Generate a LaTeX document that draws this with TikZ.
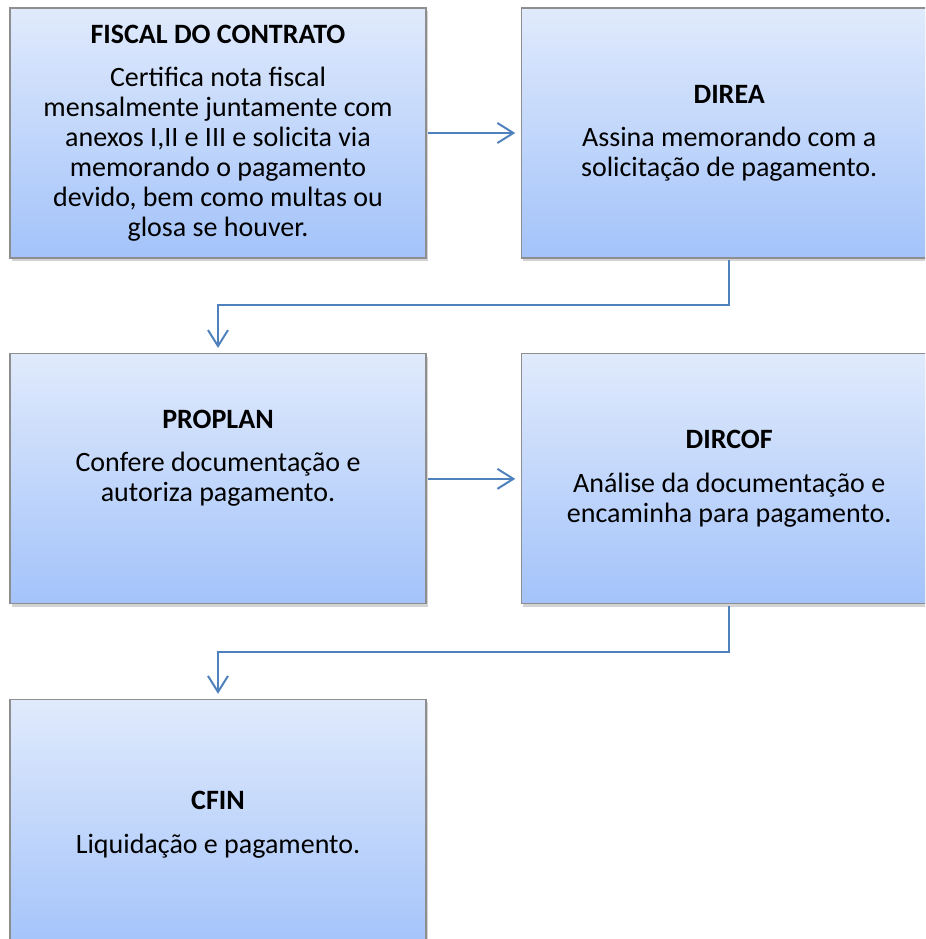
\documentclass[tikz,border=0pt]{standalone}
\usepackage{fontspec}
\setmainfont{Carlito}
\definecolor{boxTop}{HTML}{E0EAFC}
\definecolor{boxBottom}{HTML}{A3C3FA}
\definecolor{boxEdge}{HTML}{8E8E8E}
\definecolor{flowBlue}{HTML}{4F81BD}
\usetikzlibrary{arrows.meta, positioning, shadows}
\begin{document}
\begin{tikzpicture}[
      x=0.75pt, y=-0.75pt,
      node distance=71pt and 70.5pt,
      every node/.style={font=\fontsize{21}{22.5}\selectfont},
      stagebox/.style={rectangle, draw=boxEdge, line width=0.9pt, top color=boxTop, bottom color=boxBottom, align=center, minimum width=312pt, minimum height=187.5pt, inner sep=4pt, drop shadow={shadow xshift=1.5pt, shadow yshift=-2pt, opacity=0.35}},
      arrow/.style={-{Straight Barb[length=12pt, width=15pt, line width=1.5pt]}, line width=1.5pt, color=flowBlue, shorten >=4pt, shorten <=1pt}
    ]
      \clip (0,0) rectangle (925,939);

      % Top Row: Fiscal to DIREA
      \node[stagebox] (fiscal) at (218,133) {\textbf{FISCAL DO CONTRATO}\\[10pt]Certifica nota fiscal\\mensalmente juntamente com\\anexos I,II e III e solicita via\\memorando o pagamento\\devido, bem como multas ou\\glosa se houver.};
      \node[stagebox, right=of fiscal] (direa) {\textbf{DIREA}\\[10pt]Assina memorando com a\\solicitação de pagamento.};

      % Middle Row: PROPLAN to DIRCOF
      \node[stagebox, below=of fiscal] (proplan) {\textbf{PROPLAN}\\[10pt]Confere documentação e\\autoriza pagamento.\\[12pt]\mbox{}};
      \node[stagebox, right=of proplan] (dircof) {\textbf{DIRCOF}\\[10pt]Análise da documentação e\\encaminha para pagamento.};

      % Bottom Row: CFIN
      \node[stagebox, below=of proplan] (cfin) {\textbf{CFIN}\\[10pt]Liquidação e pagamento.};

      % Connecting Arrows
      \draw[arrow] (fiscal) -- (direa);
      \draw[arrow] (direa.south) -- ++(0,-34.5pt) -| (proplan.north);
      \draw[arrow] (proplan) -- (dircof);
      \draw[arrow] (dircof.south) -- ++(0,-36pt) -| (cfin.north);
    \end{tikzpicture}
\end{document}
